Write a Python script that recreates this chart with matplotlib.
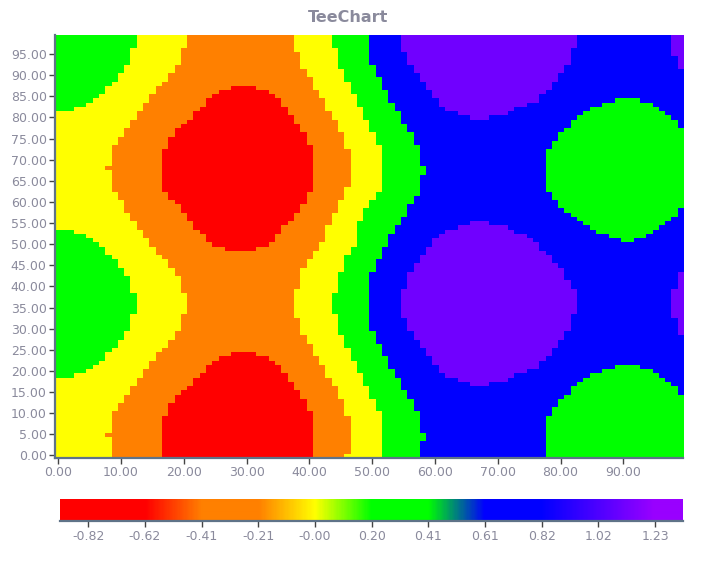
import matplotlib
matplotlib.use("Agg")
import matplotlib.pyplot as plt
import numpy as np
from matplotlib.colors import LinearSegmentedColormap, ListedColormap, Normalize

# right edge (cell index) of each band, one entry per grid row (y = 0..99)
LEFT_GREEN = ([0]*10 + [0]*9 + [3] + [5, 6, 7, 8, 8, 9, 10, 10, 11, 11]
              + [12, 12, 12, 12, 13, 13, 13, 13, 13, 12]
              + [12, 12, 12, 11, 11, 10, 10, 9, 8, 8]
              + [7, 6, 5, 3] + [0]*6 + [0]*10 + [0]*10 + [0, 0, 3, 5, 6, 7, 8, 8, 9, 10]
              + [10, 11, 11, 12, 12, 12, 12, 13, 13, 13])
YELLOW_END = [9, 9, 9, 9, 9, 8, 9, 9, 9, 9,
              9, 10, 10, 11, 11, 12, 12, 13, 13, 14,
              14, 15, 15, 16, 16, 17, 18, 18, 19, 19,
              20, 20, 20, 20, 21, 21, 21, 21, 21, 20,
              20, 20, 20, 19, 19, 18, 18, 17, 16, 16,
              15, 15, 14, 14, 13, 13, 12, 12, 11, 11,
              11, 10, 10, 9, 9, 9, 9, 9, 8, 9,
              9, 9, 9, 9, 10, 10, 11, 11, 12, 12,
              13, 13, 14, 14, 15, 15, 16, 16, 17, 18,
              18, 19, 19, 20, 20, 20, 20, 21, 21, 21]
RED_START = [17]*10 + [18, 18, 18, 19, 19, 20, 21, 22, 22, 23,
             24, 24, 25, 26, 28] + [30]*5 + [30]*10 + [30]*9 + [27,
             25, 24, 24, 23, 22, 22, 21, 21, 20, 20,
             19, 18, 18] + [17]*7 + [17, 17, 17, 18, 18, 18, 19, 19, 20, 21,
             22, 22, 23, 24, 24, 25, 26, 28, 30, 30] + [30]*10
RED_END = [41]*10 + [41, 40, 40, 40, 39, 39, 38, 38, 37, 37,
           36, 36, 35, 34, 32] + [30]*5 + [30]*10 + [30]*9 + [32,
           34, 35, 35, 36, 36, 37, 38, 38, 39, 39,
           40, 40, 40] + [41]*7 + [41, 41, 41, 41, 40, 40, 40, 39, 39, 38,
           38, 37, 37, 36, 36, 35, 34, 32, 30, 30] + [30]*10
ORANGE_END = [46, 47, 47, 47, 47, 47, 47, 47, 47, 47,
              46, 46, 46, 46, 45, 45, 45, 44, 44, 43,
              43, 43, 42, 42, 41, 41, 41, 40, 40, 39,
              39, 39, 39, 38, 38, 38, 38, 38, 38, 38,
              39, 39, 39, 39, 39, 40, 40, 41, 41, 42,
              42, 43, 43, 43, 43, 44, 44, 44, 45, 45,
              45, 46, 46, 46, 47, 47, 47, 47, 47, 47,
              47, 47, 47, 46, 46, 46, 46, 45, 45, 45,
              44, 44, 43, 43, 43, 42, 42, 41, 41, 41,
              40, 40, 39, 39, 39, 39, 38, 38, 38, 38]
YELLOW2_END = [52]*10 + [52, 51, 51, 51, 50, 50, 50, 49, 49, 49,
               48, 48, 48, 47, 47, 47, 46, 46, 46, 45,
               45, 45, 45, 45, 44, 44, 44, 44, 44, 45,
               45, 45, 45, 45, 46, 46, 46, 46, 47, 47,
               48, 48, 48, 48, 48, 48, 49, 49, 49, 50,
               50, 51, 51] + [52]*7 + [52, 52, 52, 52, 51, 51, 51, 50, 50, 50,
               49, 49, 49, 48, 48, 48, 47, 47, 47, 46,
               46, 46, 45, 45, 45, 45, 45, 44, 44, 44]
GREEN2_END = [58, 58, 58, 58, 59, 59, 58, 58, 58, 58,
              58, 57, 57, 57, 56, 56, 55, 55, 55, 54,
              54, 53, 53, 53, 52, 52, 52, 51, 51, 51,
              50, 50, 50, 50, 50, 50, 50, 50, 50, 50,
              50, 50, 50, 50, 51, 51, 51, 52, 52, 52,
              53, 53, 53, 54, 54, 55, 55, 56, 56, 56,
              57, 57, 58, 58, 58, 58, 58, 59, 59, 58,
              58, 58, 58, 58, 57, 57, 57, 56, 56, 55,
              55, 55, 54, 54, 53, 53, 53, 52, 52, 52,
              51, 51, 51, 50, 50, 50, 50, 50, 50, 50]
PURPLE_START = [70]*10 + [70]*7 + [66, 64, 62,
                61, 61, 60, 60, 59, 59, 58, 58, 57, 57,
                56, 56, 56, 55, 55, 55, 55, 55, 55, 55,
                56, 56, 56, 56, 57, 57, 58, 58, 59, 59,
                60, 60, 61, 62, 64, 66, 70, 70, 70, 70] + [70]*20 + [
                66, 64, 62, 61, 61, 60, 60, 59, 59, 58,
                58, 57, 57, 56, 56, 56, 55, 55, 55, 55]
PURPLE_END = [70]*10 + [70]*7 + [69, 72, 73,
              75, 77, 77, 78, 79, 79, 80, 80, 81, 81,
              82, 82, 82, 82, 83, 83, 83, 83, 83, 83,
              82, 82, 81, 81, 81, 80, 79, 79, 78, 77,
              77, 76, 75, 73, 72, 69, 70, 70, 70, 70] + [70]*20 + [
              69, 72, 73, 75, 77, 77, 78, 79, 79, 80,
              80, 81, 81, 82, 82, 82, 82, 83, 83, 83]
GREEN3_START = [78]*10 + [79, 79, 80, 80, 81, 82, 82, 83, 84, 85,
                87, 89] + [90]*8 + [90]*20 + [90, 90, 88, 86, 85, 84, 83, 82, 81, 80,
                80, 79, 79] + [78]*7 + [78, 78, 78, 79, 79, 80, 80, 81, 82, 82,
                83, 84, 85, 87, 89, 90, 90, 90, 90, 90] + [90]*10
GREEN3_END = [100]*10 + [100]*5 + [99, 99, 98, 97, 96,
              95, 93] + [90]*8 + [90]*20 + [90, 92, 94, 95, 96, 97, 98, 99, 99, 100] + [
              100]*10 + [100]*8 + [99, 99,
              98, 97, 96, 95, 93, 90, 90, 90, 90, 90] + [90]*10
RIGHT_PURPLE_START = [100]*29 + [99, 99, 99, 99] + [98]*7 + [99, 99, 99, 99] + [100]*48 + [
                      99, 99, 99, 98, 98, 98, 98, 98]

X_TICKS = [0, 10, 20, 30, 40, 50, 60, 70, 80, 90]
Y_TICKS = [0, 5, 10, 15, 20, 25, 30, 35, 40, 45, 50, 55, 60, 65, 70, 75, 80, 85, 90, 95]

BAR_TICKS = [-0.82, -0.615, -0.41, -0.205, 0.0, 0.205, 0.41, 0.615, 0.82, 1.025, 1.23]
BAR_LABELS = ["-0.82", "-0.62", "-0.41", "-0.21", "-0.00", "0.20", "0.41", "0.61", "0.82", "1.02", "1.23"]
BAR_MIN, BAR_MAX = -0.922, 1.331
BAR_STOPS = [-0.922, -0.615, -0.41, -0.205, 0.0, 0.205, 0.41, 0.615, 0.82, 1.23, 1.331]
BAR_COLORS = ["#ff0000", "#ff0000", "#ff8000", "#ff8000", "#ffff00", "#00ff00",
              "#00ff00", "#0000ff", "#0000ff", "#9900ff", "#9900ff"]

BAND_COLORS = ["#ff0000", "#ff8000", "#ffff00", "#00ff00", "#0000ff", "#7000ff"]
RED, ORANGE, YELLOW, GREEN, BLUE, PURPLE = range(6)

TEXT = "#8a8a9c"
SPINE = "#5f7388"
TICK = "#444444"

# paint the bands row by row
grid = np.full((100, 100), BLUE)
for r in range(100):
    grid[r, :GREEN2_END[r]] = GREEN
    grid[r, :YELLOW2_END[r]] = YELLOW
    grid[r, :ORANGE_END[r]] = ORANGE
    grid[r, RED_START[r]:RED_END[r]] = RED
    grid[r, :YELLOW_END[r]] = YELLOW
    grid[r, :LEFT_GREEN[r]] = GREEN
    grid[r, PURPLE_START[r]:PURPLE_END[r]] = PURPLE
    grid[r, GREEN3_START[r]:GREEN3_END[r]] = GREEN
    grid[r, RIGHT_PURPLE_START[r]:] = PURPLE

W, H = 712, 562
plt.rcParams["font.family"] = ["DejaVu Sans"]
fig = plt.figure(figsize=(W / 100, H / 100), dpi=100, facecolor="white")

ax = fig.add_axes([55 / W, 1 - 457.5 / H, 628 / W, 422.5 / H])
ax.imshow(grid, origin="lower", aspect="auto", extent=(-0.5, 99.5, -0.5, 99.5),
          cmap=ListedColormap(BAND_COLORS), vmin=0, vmax=5, interpolation="nearest")
ax.set_xticks(X_TICKS)
ax.set_xticklabels([f"{v:.2f}" for v in X_TICKS])
ax.set_yticks(Y_TICKS)
ax.set_yticklabels([f"{v:.2f}" for v in Y_TICKS])
ax.tick_params(axis="both", length=4, width=1, color=TICK, labelcolor=TEXT, labelsize=9, pad=2)
for s in ("top", "right"):
    ax.spines[s].set_visible(False)
for s in ("left", "bottom"):
    ax.spines[s].set_color(SPINE)
    ax.spines[s].set_linewidth(1.6)

bar = fig.add_axes([60 / W, 1 - 520.5 / H, 623 / W, 21.5 / H])
pos = [(v - BAR_MIN) / (BAR_MAX - BAR_MIN) for v in BAR_STOPS]
bar_cmap = LinearSegmentedColormap.from_list("tee", list(zip(pos, BAR_COLORS)), N=512)
ramp = np.linspace(BAR_MIN, BAR_MAX, 623).reshape(1, -1)
bar.imshow(ramp, aspect="auto", extent=(BAR_MIN, BAR_MAX, 0, 1), cmap=bar_cmap,
           norm=Normalize(BAR_MIN, BAR_MAX), interpolation="bilinear")
bar.set_yticks([])
bar.set_xticks(BAR_TICKS)
bar.set_xticklabels(BAR_LABELS)
bar.tick_params(axis="x", length=4, width=1, color=TICK, labelcolor=TEXT, labelsize=9, pad=3)
for s in ("top", "right", "left"):
    bar.spines[s].set_visible(False)
bar.spines["bottom"].set_color(SPINE)
bar.spines["bottom"].set_linewidth(1.6)

fig.text(348.5 / W, 1 - 17 / H, "TeeChart", ha="center", va="center",
         fontsize=11.5, fontweight="bold", color=TEXT)

fig.savefig("out.png", dpi=100, facecolor="white")
